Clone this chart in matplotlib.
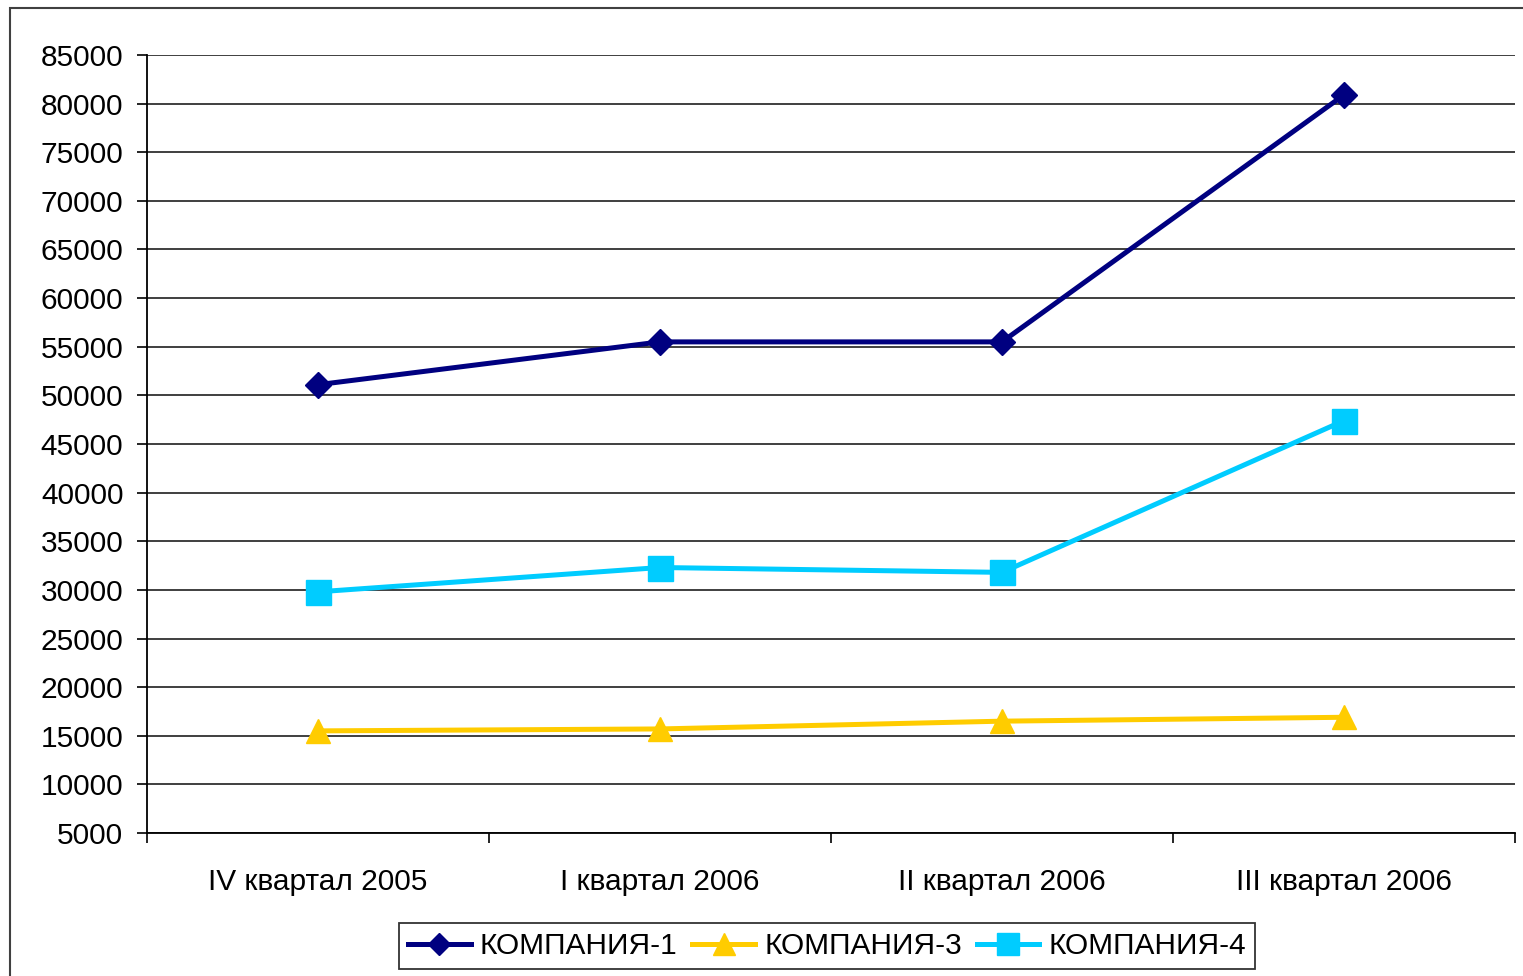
import matplotlib.pyplot as plt
from matplotlib.patches import Rectangle
from matplotlib.lines import Line2D
import numpy as np

quarters = ["IV квартал 2005", "I квартал 2006", "II квартал 2006", "III квартал 2006"]
company1 = [51100, 55500, 55500, 80900]
company3 = [15500, 15700, 16500, 16900]
company4 = [29800, 32300, 31800, 47400]

series = [
    ("КОМПАНИЯ-1", company1, "#000080", "D", 13),
    ("КОМПАНИЯ-3", company3, "#FFCC00", "^", 17),
    ("КОМПАНИЯ-4", company4, "#00CCFF", "s", 18),
]

plt.rcParams["font.family"] = ["Liberation Sans", "DejaVu Sans"]

W, H = 1523, 976
fig = plt.figure(figsize=(W / 100, H / 100), dpi=100)
fig.patch.set_facecolor("white")

ax = fig.add_axes([147 / W, 1 - 833 / H, (1515 - 147) / W, (833 - 55) / H])

# border round the chart
fig.add_artist(Rectangle((10 / W, -0.05), 1.2, 1 - 8 / H + 0.05,
                         transform=fig.transFigure, fill=False,
                         edgecolor="#404040", linewidth=1.5))

x = np.arange(len(quarters))
handles = []
for name, vals, col, mk, ms in series:
    ax.plot(x, vals, color=col, linewidth=3.6, marker=mk, markersize=ms,
            markeredgecolor=col, zorder=3, label=name)
    handles.append(Line2D([], [], color=col, linewidth=3.6, marker=mk,
                          markersize=ms * 0.9, markeredgecolor=col))

ax.set_xlim(-0.5, len(quarters) - 0.5)
ax.set_ylim(5000, 85000)
ax.set_yticks(np.arange(5000, 85001, 5000))
ax.yaxis.grid(True, color="#303030", linewidth=1.3)
ax.set_axisbelow(True)

ax.set_xticks(x)
ax.set_xticklabels(quarters)
ax.set_xticks(np.arange(-0.5, len(quarters)), minor=True)
ax.tick_params(axis="x", which="major", length=0, pad=25, labelsize=21.5, colors="black")
ax.tick_params(axis="x", which="minor", length=7, width=1.2, direction="out", color="black")
ax.tick_params(axis="y", length=7, width=1.2, pad=10, labelsize=21.5, colors="black")

for side in ["top", "right"]:
    ax.spines[side].set_visible(False)
ax.spines["left"].set_color("black")
ax.spines["left"].set_linewidth(1.3)
ax.spines["bottom"].set_color("black")
ax.spines["bottom"].set_linewidth(1.3)

leg = fig.legend(handles, [s[0] for s in series], loc="center",
                 bbox_to_anchor=(827 / W, 1 - 946 / H), ncol=3,
                 fontsize=21.5, frameon=True, fancybox=False,
                 edgecolor="black", handlelength=2.1, handletextpad=0.3,
                 columnspacing=0.5, borderpad=0.3, borderaxespad=0)
leg.get_frame().set_linewidth(1.3)

fig.savefig("out.png", dpi=100, facecolor="white")
